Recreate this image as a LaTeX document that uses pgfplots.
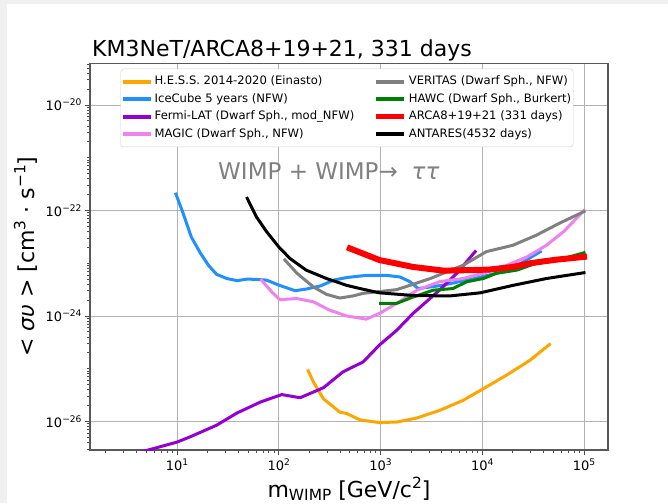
\documentclass[border=0pt]{standalone}
\usepackage{fontspec}
\setmainfont{DejaVu Sans}
\usepackage{pgfplots}
\pgfplotsset{compat=1.18}
\definecolor{hess}{HTML}{FFA500}
\definecolor{icecube}{HTML}{1E90FF}
\definecolor{fermi}{HTML}{9400D3}
\definecolor{magic}{HTML}{EE82EE}
\definecolor{veritas}{HTML}{808080}
\definecolor{hawc}{HTML}{008000}
\definecolor{arca}{HTML}{FF0000}
\definecolor{bgstrip}{HTML}{F0F0F0}
\newcommand{\supa}[1]{\raisebox{0.38em}{\fontsize{9.1}{10}\selectfont #1}}
\newcommand{\supb}[1]{\raisebox{0.40em}{\fontsize{15.4}{16}\selectfont #1}}
\begin{document}
\begin{tikzpicture}
\fill[bgstrip] (-90pt,-53pt) rectangle (578pt,450pt);
\fill[white] (-83pt,-53pt) rectangle (578pt,446pt);
\begin{axis}[
  name=ax,
  at={(0,0)}, anchor=south west,
  scale only axis, width=518pt, height=386.7pt,
  xmode=log, ymode=log,
  xmin=1.396, xmax=172200,
  ymin=2.88e-27, ymax=6.17e-20,
  xtick={10,100,1000,10000,100000},
  xticklabels={10\supa{1},10\supa{2},10\supa{3},10\supa{4},10\supa{5}},
  minor xtick={2,3,4,5,6,7,8,9,20,30,40,50,60,70,80,90,200,300,400,500,600,700,800,900,2000,3000,4000,5000,6000,7000,8000,9000,20000,30000,40000,50000,60000,70000,80000,90000},
  ytick={1e-26,1e-24,1e-22,1e-20},
  yticklabels={10\supa{−26},10\supa{−24},10\supa{−22},10\supa{−20}},
  minor ytick={3e-27,4e-27,5e-27,6e-27,7e-27,8e-27,9e-27,2e-26,3e-26,4e-26,5e-26,6e-26,7e-26,8e-26,9e-26,1e-25,2e-25,3e-25,4e-25,5e-25,6e-25,7e-25,8e-25,9e-25,2e-24,3e-24,4e-24,5e-24,6e-24,7e-24,8e-24,9e-24,1e-23,2e-23,3e-23,4e-23,5e-23,6e-23,7e-23,8e-23,9e-23,2e-22,3e-22,4e-22,5e-22,6e-22,7e-22,8e-22,9e-22,1e-21,2e-21,3e-21,4e-21,5e-21,6e-21,7e-21,8e-21,9e-21,2e-20,3e-20,4e-20,5e-20,6e-20},
  tick pos=left,
  tick align=outside,
  major tick length=5pt, minor tick length=3pt,
  every tick/.append style={black!70, line width=0.9pt},
  ticklabel style={font=\fontsize{13}{15}\selectfont},
  xmajorgrids, ymajorgrids,
  major grid style={black!30, line width=0.9pt},
  axis line style={black!65, line width=1.6pt},
  xlabel={m\raisebox{-0.15em}{\fontsize{15.4}{16}\selectfont WIMP} [GeV/c\supb{2}]},
  xlabel style={font=\fontsize{22}{26}\selectfont, at={(axis description cs:0.5,0)}, anchor=base, yshift=-47pt},
  ylabel={< {\itshape συ} > [cm\supb{3} · s\supb{−1}]},
  ylabel style={font=\fontsize{22}{26}\selectfont, at={(axis description cs:-0.108,0.5)}, anchor=base},
  legend columns=2,
  legend cell align=left,
  legend style={at={(axis description cs:0.0589,0.986)}, anchor=north west,
    draw=black!18, rounded corners=3pt, fill=white,
    inner xsep=0pt, inner ysep=5pt,
    font=\fontsize{11.6}{14}\selectfont, row sep=1.6pt,
    nodes={inner sep=2pt, text height=9pt, text depth=2.8pt},
    /tikz/every even column/.append style={column sep=17pt}},
  legend image code/.code={\draw[#1, line cap=butt] (0pt,0pt) -- (28pt,0pt);},
  every axis plot/.append style={line width=3pt, line join=round, line cap=rect},
]
% H.E.S.S.
\addplot[hess, forget plot] coordinates {(195,9.12e-26) (219,5.62e-26) (275,2.69e-26) (398,1.51e-26) (468,1.41e-26) (631,1.07e-26) (977,9.55e-27) (1445,9.77e-27) (2291,1.17e-26) (3802,1.62e-26) (6457,2.51e-26) (10230,4.17e-26) (17380,7.59e-26) (29510,1.45e-25) (45710,2.88e-25)};
% IceCube
\addplot[icecube, forget plot] coordinates {(9.77,2.04e-22) (11.5,8.81e-23) (13.8,3.16e-23) (17.0,1.55e-23) (20.4,9.12e-24) (24.5,6.17e-24) (30.9,5.13e-24) (38.9,4.68e-24) (49.0,5.01e-24) (66.1,4.90e-24) (75.9,4.79e-24) (102,3.80e-24) (145,3.02e-24) (186,3.24e-24) (257,3.72e-24) (347,4.79e-24) (468,5.37e-24) (724,5.89e-24) (1148,5.89e-24) (1549,5.50e-24) (1950,4.47e-24) (2344,3.31e-24) (3981,3.80e-24) (7943,5.01e-24) (18600,7.41e-24) (37200,1.66e-23)};
% Fermi-LAT
\addplot[fermi, forget plot] coordinates {(3.16,2.19e-27) (5.01,2.82e-27) (10,4.07e-27) (13.5,5.13e-27) (24.5,8.51e-27) (38.9,1.45e-26) (66.1,2.34e-26) (107,3.24e-26) (162,2.82e-26) (275,4.37e-26) (427,8.71e-26) (676,1.35e-25) (977,2.82e-25) (1445,5.37e-25) (2089,1.12e-24) (3802,3.09e-24) (5623,6.46e-24) (8511,1.66e-23)};
% MAGIC
\addplot[magic, forget plot] coordinates {(67.6,4.79e-24) (85.1,2.88e-24) (102,2.04e-24) (151,2.14e-24) (219,1.86e-24) (316,1.29e-24) (468,1.0e-24) (724,8.71e-25) (977,1.12e-24) (1445,1.74e-24) (2291,3.09e-24) (3802,4.47e-24) (6457,5.13e-24) (10230,6.46e-24) (17380,9.12e-24) (27540,1.32e-23) (42660,2.19e-23) (63100,3.98e-23) (100000,1.0e-22)};
% VERITAS
\addplot[veritas, forget plot] coordinates {(115,1.15e-23) (151,6.46e-24) (219,3.55e-24) (295,2.57e-24) (398,2.19e-24) (537,2.40e-24) (676,2.69e-24) (1445,3.16e-24) (3090,5.13e-24) (6457,9.12e-24) (10965,1.66e-23) (19950,2.19e-23) (33880,3.39e-23) (57540,5.75e-23) (100000,9.55e-23)};
% HAWC
\addplot[hawc, forget plot] coordinates {(1000,1.74e-24) (1445,1.74e-24) (2089,2.29e-24) (3311,3.09e-24) (5129,3.31e-24) (7079,4.47e-24) (10230,5.13e-24) (13800,6.46e-24) (21880,7.41e-24) (33880,1.0e-23) (63100,1.23e-23) (100000,1.58e-23)};
% ARCA
\addplot[arca, line width=6pt, forget plot] coordinates {(500,1.91e-23) (977,1.15e-23) (2089,8.51e-24) (4169,7.24e-24) (7586,7.41e-24) (11750,7.59e-24) (19950,8.51e-24) (29510,1.0e-23) (53700,1.17e-23) (100000,1.32e-23)};
% ANTARES
\addplot[black, forget plot] coordinates {(49.0,1.70e-22) (60.3,7.59e-23) (75.9,3.98e-23) (100,2.04e-23) (129,1.23e-23) (186,7.41e-24) (295,5.13e-24) (468,3.80e-24) (631,3.31e-24) (977,2.75e-24) (2089,2.45e-24) (4786,2.40e-24) (9550,2.75e-24) (19950,3.80e-24) (42660,5.13e-24) (100000,6.61e-24)};

\addlegendimage{hess, line width=4pt}
\addlegendentry{H.E.S.S. 2014-2020 (Einasto)}
\addlegendimage{veritas, line width=4pt}
\addlegendentry{VERITAS (Dwarf Sph., NFW)}
\addlegendimage{icecube, line width=4pt}
\addlegendentry{IceCube 5 years (NFW)}
\addlegendimage{hawc, line width=4pt}
\addlegendentry{HAWC (Dwarf Sph., Burkert)}
\addlegendimage{fermi, line width=4pt}
\addlegendentry{Fermi-LAT (Dwarf Sph., mod\_NFW)}
\addlegendimage{arca, line width=5.5pt}
\addlegendentry{ARCA8+19+21 (331 days)}
\addlegendimage{magic, line width=4pt}
\addlegendentry{MAGIC (Dwarf Sph., NFW)}
\addlegendimage{black, line width=4pt}
\addlegendentry{ANTARES(4532 days)}

\node[anchor=base west, inner sep=0pt, text=black!50, font=\fontsize{23}{27}\selectfont] at (axis cs:25.3,3.9e-22) {WIMP + WIMP→\hspace{0.6em}{\itshape ττ}};
\end{axis}
\node[anchor=base west, inner sep=0pt, font=\fontsize{22}{26}\selectfont] at (2pt,393pt) {KM3NeT/ARCA8+19+21, 331 days};
\pgfresetboundingbox
\path[use as bounding box] (-90pt,-53pt) rectangle (578pt,450pt);
\end{tikzpicture}
\end{document}
